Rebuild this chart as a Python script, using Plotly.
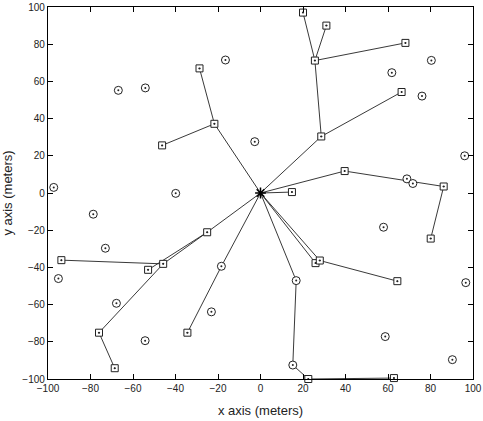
import plotly.graph_objects as go

# Connected nodes (tree rooted at the hub at index 0)
node_x = [0, 28.6, 25.6, 20.0, 31.0, 68.2, 66.4, 39.6, 86.2, 80.1, 14.8,
          -21.7, -28.7, -46.3, -25.1, -45.8, -52.9, -93.7, -76.0, -68.6,
          -18.4, -34.4, 25.9, 27.9, 64.4, 16.8, 15.2, 22.5, 62.8]
node_y = [0, 30.4, 71.2, 97.0, 90.0, 80.7, 54.3, 11.8, 3.5, -24.5, 0.5,
          37.2, 67.0, 25.6, -21.1, -38.1, -41.3, -36.1, -75.1, -94.2,
          -39.4, -75.1, -37.7, -36.3, -47.4, -47.1, -92.5, -100.0, -99.5]
node_parent = [None, 0, 1, 2, 2, 2, 1, 0, 7, 8, 0,
               0, 11, 11, 0, 14, 14, 15, 15, 18,
               0, 20, 0, 0, 23, 0, 25, 26, 27]
node_kind = ["hub", "sq", "sq", "sq", "sq", "sq", "sq", "sq", "sq", "sq", "sq",
             "sq", "sq", "sq", "sq", "sq", "sq", "sq", "sq", "sq",
             "ci", "sq", "sq", "sq", "sq", "ci", "ci", "sq", "sq"]

# Unconnected nodes
free_x = [80.4, 61.8, 76.0, -2.7, 96.1, 68.9, 71.7, -16.5, -66.9, -54.2, -97.3,
          -39.9, -78.7, -73.0, -95.1, -67.8, -54.3, -23.1, 57.9, 96.6, 58.7, 90.3]
free_y = [71.3, 64.7, 52.1, 27.6, 20.0, 7.6, 5.1, 71.5, 55.2, 56.5, 3.0,
          -0.2, -11.4, -29.7, -46.0, -59.3, -79.4, -63.9, -18.4, -48.2, -77.2, -89.6]

tick_vals = [-100, -80, -60, -40, -20, 0, 20, 40, 60, 80, 100]

ink = "#222222"

ex, ey = [], []
for i, p in enumerate(node_parent):
    if p is None:
        continue
    ex += [node_x[p], node_x[i], None]
    ey += [node_y[p], node_y[i], None]

fig = go.Figure()
fig.add_trace(go.Scatter(x=ex, y=ey, mode="lines",
                         line=dict(color=ink, width=0.9), hoverinfo="skip",
                         cliponaxis=False))

sx = [x for x, k in zip(node_x, node_kind) if k == "sq"]
sy = [y for y, k in zip(node_y, node_kind) if k == "sq"]
cx = [x for x, k in zip(node_x, node_kind) if k == "ci"] + free_x
cy = [y for y, k in zip(node_y, node_kind) if k == "ci"] + free_y
hx = [x for x, k in zip(node_x, node_kind) if k == "hub"]
hy = [y for y, k in zip(node_y, node_kind) if k == "hub"]

fig.add_trace(go.Scatter(x=sx, y=sy, mode="markers", cliponaxis=False,
                         marker=dict(symbol="square-dot", size=7, color="white",
                                     line=dict(width=1, color=ink))))
fig.add_trace(go.Scatter(x=sx, y=sy, mode="markers", cliponaxis=False,
                         marker=dict(symbol="circle", size=2, color=ink)))
fig.add_trace(go.Scatter(x=cx, y=cy, mode="markers", cliponaxis=False,
                         marker=dict(symbol="circle", size=8, color="white",
                                     line=dict(width=1, color=ink))))
fig.add_trace(go.Scatter(x=cx, y=cy, mode="markers", cliponaxis=False,
                         marker=dict(symbol="circle", size=2, color=ink)))
fig.add_trace(go.Scatter(x=hx, y=hy, mode="markers", cliponaxis=False,
                         marker=dict(symbol="asterisk-open", size=9,
                                     color="black", line=dict(width=1.5, color="black"))))

axis_common = dict(
    tickvals=tick_vals, ticktext=[str(v).replace("-", "\u2212") for v in tick_vals],
    ticks="inside", ticklen=5, tickwidth=1, tickcolor="black",
    showline=True, linecolor="black", linewidth=1.2, mirror="ticks",
    showgrid=False, zeroline=False, automargin=False,
    tickfont=dict(family="Liberation Sans, Arial, sans-serif", size=10, color="#222"),
)
fig.update_layout(
    width=483, height=421,
    margin=dict(l=48, r=10, t=7, b=42),
    paper_bgcolor="white", plot_bgcolor="white",
    showlegend=False,
    xaxis=dict(range=[-100, 100], title=dict(text="x axis (meters)", standoff=12,
               font=dict(family="Liberation Sans, Arial, sans-serif", size=13, color="#222")),
               **axis_common),
    yaxis=dict(range=[-100, 100], title=dict(text="y axis (meters)", standoff=6,
               font=dict(family="Liberation Sans, Arial, sans-serif", size=13, color="#222")),
               **axis_common),
)
fig.write_html("out.html")
